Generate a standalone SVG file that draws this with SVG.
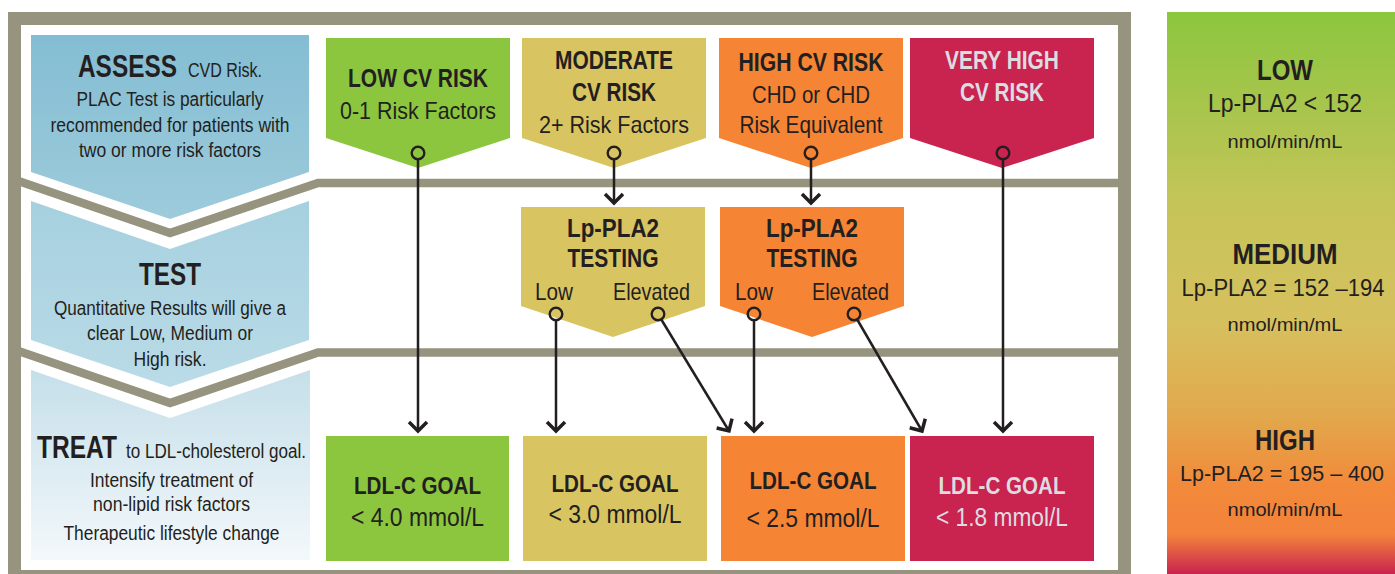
<svg xmlns="http://www.w3.org/2000/svg" width="1395" height="574" viewBox="0 0 1395 574">
<style>
.t{font-family:"Liberation Sans",Arial,sans-serif;fill:#231f20}
.b{font-weight:bold}
.m{text-anchor:middle}
.lt{fill:#dcdde0}
.ln{stroke:#231f20;stroke-width:2.5;fill:none}
.dot{fill:none;stroke:#231f20;stroke-width:2.4}
.div{fill:none;stroke:#96937e;stroke-width:8.5;stroke-linejoin:miter}
</style>
<defs>
<linearGradient id="gA" x1="0" y1="0" x2="0" y2="1"><stop offset="0" stop-color="#84bdd3"/><stop offset="1" stop-color="#9dcbdb"/></linearGradient>
<linearGradient id="gT" x1="0" y1="0" x2="0" y2="1"><stop offset="0" stop-color="#a6d0df"/><stop offset="1" stop-color="#badbe7"/></linearGradient>
<linearGradient id="gR" x1="0" y1="0" x2="0" y2="1"><stop offset="0" stop-color="#c5dfe9"/><stop offset="1" stop-color="#f3f8fb"/></linearGradient>
<linearGradient id="gL" x1="0" y1="0" x2="0" y2="1">
<stop offset="0" stop-color="#8cc63f"/><stop offset="0.35" stop-color="#c6c459"/><stop offset="0.55" stop-color="#d6c05e"/><stop offset="0.72" stop-color="#e2a84c"/><stop offset="0.84" stop-color="#f28a3a"/><stop offset="0.93" stop-color="#f3823a"/><stop offset="1" stop-color="#c9234f"/>
</linearGradient>
<marker id="arr" markerUnits="userSpaceOnUse" viewBox="-14 -14 28 28" markerWidth="28" markerHeight="28" refX="0" refY="0" orient="auto">
<path d="M-9,-9 L0,0 L-9,9" fill="none" stroke="#231f20" stroke-width="3.5" stroke-linejoin="miter"/>
</marker>
</defs>
<rect width="1395" height="574" fill="#ffffff"/>
<g id="frame">
<rect x="8" y="12" width="1123" height="580" fill="#96937e"/>
<rect x="21" y="25" width="1097" height="545" fill="#ffffff"/>
<polyline class="div" points="14,179.6 170,233 318,183 1124,183"/>
<polyline class="div" points="14,349.6 170,403 318,352.5 1124,352.5"/>
</g>
<g id="assess">
<polygon points="31,35 309,35 309,172 170,219 31,172" fill="url(#gA)"/>
<text class="t b" x="78" y="77" font-size="31" textLength="99" lengthAdjust="spacingAndGlyphs">ASSESS</text>
<text class="t" x="188" y="77" font-size="20" textLength="74" lengthAdjust="spacingAndGlyphs">CVD Risk.</text>
<text class="t m" x="170" y="106" font-size="20" textLength="187" lengthAdjust="spacingAndGlyphs">PLAC Test is particularly</text>
<text class="t m" x="170" y="132" font-size="20" textLength="239" lengthAdjust="spacingAndGlyphs">recommended for patients with</text>
<text class="t m" x="170" y="157" font-size="20" textLength="182" lengthAdjust="spacingAndGlyphs">two or more risk factors</text>
</g>
<g id="test">
<polygon points="31,201 170,249 309,201 309,340 170,387 31,340" fill="url(#gT)"/>
<text class="t b m" x="170" y="285" font-size="31" textLength="62" lengthAdjust="spacingAndGlyphs">TEST</text>
<text class="t m" x="170" y="315" font-size="20" textLength="232" lengthAdjust="spacingAndGlyphs">Quantitative Results will give a</text>
<text class="t m" x="170" y="340" font-size="20" textLength="166" lengthAdjust="spacingAndGlyphs">clear Low, Medium or</text>
<text class="t m" x="170" y="366" font-size="20" textLength="73" lengthAdjust="spacingAndGlyphs">High risk.</text>
</g>
<g id="treat">
<polygon points="31,370 170,418 310,370 310,560 31,560" fill="url(#gR)"/>
<text class="t b" x="37" y="458" font-size="31" textLength="80" lengthAdjust="spacingAndGlyphs">TREAT</text>
<text class="t" x="126" y="458" font-size="20" textLength="180" lengthAdjust="spacingAndGlyphs">to LDL-cholesterol goal.</text>
<text class="t m" x="171.5" y="487" font-size="20" textLength="163" lengthAdjust="spacingAndGlyphs">Intensify treatment of</text>
<text class="t m" x="171.5" y="511" font-size="20" textLength="157" lengthAdjust="spacingAndGlyphs">non-lipid risk factors</text>
<text class="t m" x="171.5" y="540" font-size="20" textLength="216" lengthAdjust="spacingAndGlyphs">Therapeutic lifestyle change</text>
</g>
<g id="low-risk">
<polygon points="326,38 510,38 510,138 418,168 326,138" fill="#8cc63f"/>
<text class="t b m" x="418" y="87" font-size="25" textLength="140" lengthAdjust="spacingAndGlyphs">LOW CV RISK</text>
<text class="t m" x="418" y="119" font-size="24" textLength="156" lengthAdjust="spacingAndGlyphs">0-1 Risk Factors</text>
<circle class="dot" cx="418" cy="153" r="6.3"/>
</g>
<g id="moderate-risk">
<polygon points="522,38 706,38 706,138 614,168 522,138" fill="#d9c462"/>
<text class="t b m" x="614" y="69" font-size="25" textLength="118" lengthAdjust="spacingAndGlyphs">MODERATE</text>
<text class="t b m" x="614" y="101" font-size="25" textLength="84" lengthAdjust="spacingAndGlyphs">CV RISK</text>
<text class="t m" x="614" y="133" font-size="24" textLength="150" lengthAdjust="spacingAndGlyphs">2+ Risk Factors</text>
<circle class="dot" cx="614" cy="153" r="6.3"/>
</g>
<g id="high-risk">
<polygon points="719,38 903,38 903,138 811,168 719,138" fill="#f58434"/>
<text class="t b m" x="811" y="71" font-size="25" textLength="145" lengthAdjust="spacingAndGlyphs">HIGH CV RISK</text>
<text class="t m" x="811" y="103" font-size="24" textLength="118" lengthAdjust="spacingAndGlyphs">CHD or CHD</text>
<text class="t m" x="811" y="133" font-size="24" textLength="143" lengthAdjust="spacingAndGlyphs">Risk Equivalent</text>
<circle class="dot" cx="811" cy="153" r="6.3"/>
</g>
<g id="very-high-risk">
<polygon points="910,38 1094,38 1094,138 1002,168 910,138" fill="#c9234f"/>
<text class="t b m lt" x="1002" y="69" font-size="25" textLength="114" lengthAdjust="spacingAndGlyphs">VERY HIGH</text>
<text class="t b m lt" x="1002" y="101" font-size="25" textLength="84" lengthAdjust="spacingAndGlyphs">CV RISK</text>
<circle class="dot" cx="1003" cy="153" r="6.3"/>
</g>
<g id="testing-moderate">
<polygon points="521,207 705,207 705,306 613,337 521,306" fill="#d9c462"/>
<text class="t b m" x="613" y="237" font-size="26" textLength="92" lengthAdjust="spacingAndGlyphs">Lp-PLA2</text>
<text class="t b m" x="613" y="267" font-size="26" textLength="91" lengthAdjust="spacingAndGlyphs">TESTING</text>
<text class="t" x="535" y="300" font-size="24" textLength="38" lengthAdjust="spacingAndGlyphs">Low</text>
<text class="t" x="613" y="300" font-size="24" textLength="77" lengthAdjust="spacingAndGlyphs">Elevated</text>
<circle class="dot" cx="556" cy="314" r="6.3"/>
<circle class="dot" cx="658" cy="314" r="6.3"/>
</g>
<g id="testing-high">
<polygon points="720,207 904,207 904,306 812,337 720,306" fill="#f58434"/>
<text class="t b m" x="812" y="237" font-size="26" textLength="92" lengthAdjust="spacingAndGlyphs">Lp-PLA2</text>
<text class="t b m" x="812" y="267" font-size="26" textLength="91" lengthAdjust="spacingAndGlyphs">TESTING</text>
<text class="t" x="735" y="300" font-size="24" textLength="38" lengthAdjust="spacingAndGlyphs">Low</text>
<text class="t" x="812" y="300" font-size="24" textLength="77" lengthAdjust="spacingAndGlyphs">Elevated</text>
<circle class="dot" cx="754" cy="314" r="6.3"/>
<circle class="dot" cx="854" cy="314" r="6.3"/>
</g>
<g id="goal-low">
<rect x="326" y="436" width="183" height="125" fill="#8cc63f"/>
<text class="t b m" x="417.5" y="494" font-size="24" textLength="127" lengthAdjust="spacingAndGlyphs">LDL-C GOAL</text>
<text class="t m" x="417.5" y="526" font-size="26" textLength="133" lengthAdjust="spacingAndGlyphs">&lt; 4.0 mmol/L</text>
</g>
<g id="goal-moderate">
<rect x="523" y="436" width="184" height="125" fill="#d9c462"/>
<text class="t b m" x="615" y="492" font-size="24" textLength="127" lengthAdjust="spacingAndGlyphs">LDL-C GOAL</text>
<text class="t m" x="615" y="523" font-size="26" textLength="133" lengthAdjust="spacingAndGlyphs">&lt; 3.0 mmol/L</text>
</g>
<g id="goal-high">
<rect x="721" y="436" width="184" height="125" fill="#f58434"/>
<text class="t b m" x="813" y="489" font-size="24" textLength="127" lengthAdjust="spacingAndGlyphs">LDL-C GOAL</text>
<text class="t m" x="813" y="527" font-size="26" textLength="133" lengthAdjust="spacingAndGlyphs">&lt; 2.5 mmol/L</text>
</g>
<g id="goal-very-high">
<rect x="910" y="436" width="184" height="125" fill="#c9234f"/>
<text class="t b m lt" x="1002" y="494" font-size="24" textLength="127" lengthAdjust="spacingAndGlyphs">LDL-C GOAL</text>
<text class="t m lt" x="1002" y="526" font-size="26" textLength="132" lengthAdjust="spacingAndGlyphs">&lt; 1.8 mmol/L</text>
</g>
<g id="connectors">
<line class="ln" x1="418" y1="159.5" x2="418" y2="431" marker-end="url(#arr)"/>
<line class="ln" x1="614" y1="159.5" x2="614" y2="203" marker-end="url(#arr)"/>
<line class="ln" x1="811" y1="159.5" x2="811" y2="203" marker-end="url(#arr)"/>
<line class="ln" x1="1003" y1="159.5" x2="1003" y2="431" marker-end="url(#arr)"/>
<line class="ln" x1="556" y1="320.5" x2="556" y2="431" marker-end="url(#arr)"/>
<line class="ln" x1="661.3" y1="319.5" x2="729" y2="431" marker-end="url(#arr)"/>
<line class="ln" x1="754" y1="320.5" x2="754" y2="431" marker-end="url(#arr)"/>
<line class="ln" x1="857.2" y1="319.5" x2="922" y2="431" marker-end="url(#arr)"/>
</g>
<g id="legend">
<rect x="1167" y="12" width="228" height="562" fill="url(#gL)"/>
<text class="t b m" x="1285" y="80" font-size="29" textLength="56" lengthAdjust="spacingAndGlyphs">LOW</text>
<text class="t m" x="1285" y="112" font-size="25" textLength="154" lengthAdjust="spacingAndGlyphs">Lp-PLA2 &lt; 152</text>
<text class="t m" x="1285" y="148" font-size="19" textLength="115" lengthAdjust="spacingAndGlyphs">nmol/min/mL</text>
<text class="t b m" x="1285" y="264" font-size="29" textLength="105" lengthAdjust="spacingAndGlyphs">MEDIUM</text>
<text class="t m" x="1283" y="296" font-size="23" textLength="203" lengthAdjust="spacingAndGlyphs">Lp-PLA2 = 152 –194</text>
<text class="t m" x="1285" y="331" font-size="19" textLength="115" lengthAdjust="spacingAndGlyphs">nmol/min/mL</text>
<text class="t b m" x="1285" y="450" font-size="29" textLength="60" lengthAdjust="spacingAndGlyphs">HIGH</text>
<text class="t m" x="1282" y="481" font-size="22.5" textLength="204" lengthAdjust="spacingAndGlyphs">Lp-PLA2 = 195 – 400</text>
<text class="t m" x="1285" y="516" font-size="19" textLength="115" lengthAdjust="spacingAndGlyphs">nmol/min/mL</text>
</g>
</svg>
